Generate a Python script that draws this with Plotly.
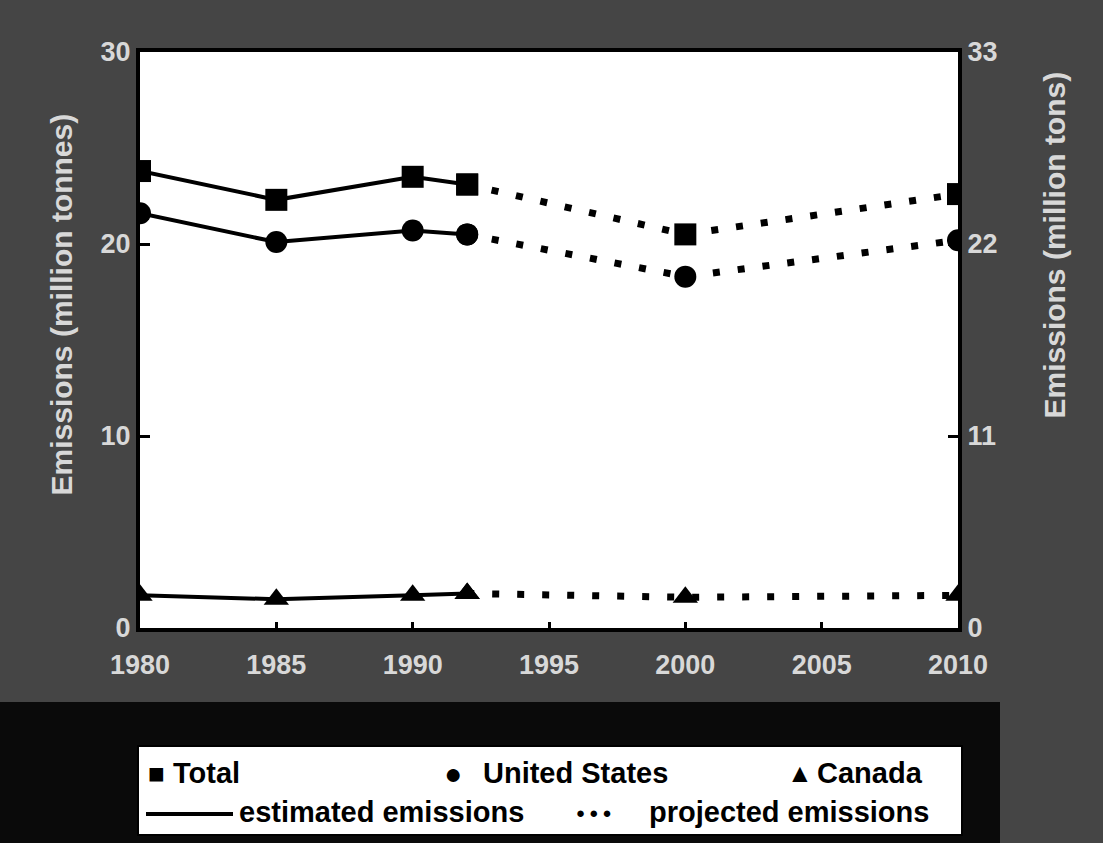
import plotly.graph_objects as go

# ---- data ----
years = [1980, 1985, 1990, 1992, 2000, 2010]
total = [23.8, 22.3, 23.5, 23.1, 20.5, 22.6]
united_states = [21.6, 20.1, 20.7, 20.5, 18.3, 20.2]
canada = [1.7, 1.5, 1.7, 1.8, 1.6, 1.7]
n_est = 4  # 1980-1992 estimated, 1992-2010 projected

x_ticks = [1980, 1985, 1990, 1995, 2000, 2005, 2010]
left_ticks = [0, 10, 20, 30]
right_ticks = [0, 11, 22, 33]
TONNE_TO_TON = 1.1

series = [
    ("Total", total, "square"),
    ("United States", united_states, "circle"),
    ("Canada", canada, "triangle-up"),
]

FONT = "Liberation Sans Narrow, Arial Narrow, Liberation Sans, Arial"
PAPER_BG = "#454545"
LABEL = "#d8d8d8"

fig = go.Figure()
for name, vals, sym in series:
    fig.add_trace(go.Scatter(
        x=years[:n_est], y=vals[:n_est], mode="lines+markers", name=name,
        line=dict(color="black", width=4),
        marker=dict(symbol=sym, size=22, color="black"),
        showlegend=False))
    fig.add_trace(go.Scatter(
        x=years[n_est - 1:], y=vals[n_est - 1:], mode="lines+markers", name=name + " projected",
        line=dict(color="black", width=7, dash="7px,18px"),
        marker=dict(symbol=sym, size=22, color="black"),
        showlegend=False))

# invisible trace to activate the right-hand axis (short tons)
fig.add_trace(go.Scatter(
    x=years, y=[v * TONNE_TO_TON for v in total], yaxis="y2", mode="markers",
    marker=dict(opacity=0), hoverinfo="skip", showlegend=False))

# ---- layout geometry (pixels) ----
W, H = 1103, 843
L, R, T, B = 140, 958, 52, 628
def px(x):
    return (x - L) / (R - L)
def py(y):
    return (B - y) / (B - T)

tick_font = dict(family=FONT, size=27, color=LABEL, weight="bold")

fig.update_layout(
    width=W, height=H,
    margin=dict(l=L, r=W - R, t=T, b=H - B),
    paper_bgcolor=PAPER_BG, plot_bgcolor="white",
    font=dict(family=FONT),
    xaxis=dict(range=[1980, 2010], tickvals=x_ticks, showgrid=False, zeroline=False,
               showline=True, linewidth=4, linecolor="black", mirror=True,
               ticks="inside", ticklen=6, tickwidth=3, tickcolor="black",
               ticklabelstandoff=10, tickfont=tick_font),
    yaxis=dict(range=[0, 30], tickvals=left_ticks, showgrid=False, zeroline=False,
               showline=True, linewidth=4, linecolor="black", mirror=True,
               ticks="inside", ticklen=10, tickwidth=3, tickcolor="black",
               tickfont=tick_font),
    yaxis2=dict(range=[0, 30 * TONNE_TO_TON], tickvals=right_ticks, overlaying="y", side="right",
                showgrid=False, zeroline=False, showline=True, linewidth=4, linecolor="black",
                ticks="inside", ticklen=10, tickwidth=3, tickcolor="black",
                tickfont=tick_font),
)

shapes = []
annotations = []
# dark band and legend box at the bottom
shapes.append(dict(type="rect", xref="paper", yref="paper", layer="below",
                   x0=px(0), x1=px(1000), y0=py(702), y1=py(843),
                   fillcolor="#0a0a0a", line=dict(width=0)))
shapes.append(dict(type="rect", xref="paper", yref="paper",
                   x0=px(138), x1=px(962), y0=py(746), y1=py(835),
                   fillcolor="white", line=dict(color="black", width=2)))

# axis titles
annotations.append(dict(text="Emissions (million tonnes)", xref="paper", yref="paper",
                        x=px(42), y=py(305), textangle=-90, showarrow=False,
                        font=dict(family=FONT, size=30, color=LABEL, weight="bold")))
annotations.append(dict(text="Emissions (million tons)", xref="paper", yref="paper",
                        x=px(1072), y=py(245), textangle=-90, showarrow=False,
                        font=dict(family=FONT, size=30, color=LABEL, weight="bold")))

leg_font = dict(family=FONT, size=29, color="black")
row1, row2 = 773, 812
legend_items = [
    ("\u25A0", 146, row1, 28), ("<b>Total</b>", 171, row1, None),
    ("\u25CF", 442, row1, 30), ("<b>United States</b>", 481, row1, None),
    ("\u25B2", 785, row1, 26), ("<b>Canada</b>", 815, row1, None),
    ("<b>estimated emissions</b>", 237, row2, None),
    ("\u25CF \u25CF \u25CF", 574, row2, 15),
    ("<b>projected emissions</b>", 647, row2, None),
]
for txt, x, y, sz in legend_items:
    f = dict(leg_font)
    if sz:
        f["size"] = sz
    annotations.append(dict(text=txt, xref="paper", yref="paper", x=px(x), y=py(y),
                            xanchor="left", yanchor="middle", showarrow=False, font=f))
shapes.append(dict(type="line", xref="paper", yref="paper",
                   x0=px(146), x1=px(233), y0=py(row2 + 2), y1=py(row2 + 2),
                   line=dict(color="black", width=4)))

fig.update_layout(shapes=shapes, annotations=annotations)
fig.write_html("out.html", config={"displayModeBar": False},
               post_script="document.body.style.margin='0';")
